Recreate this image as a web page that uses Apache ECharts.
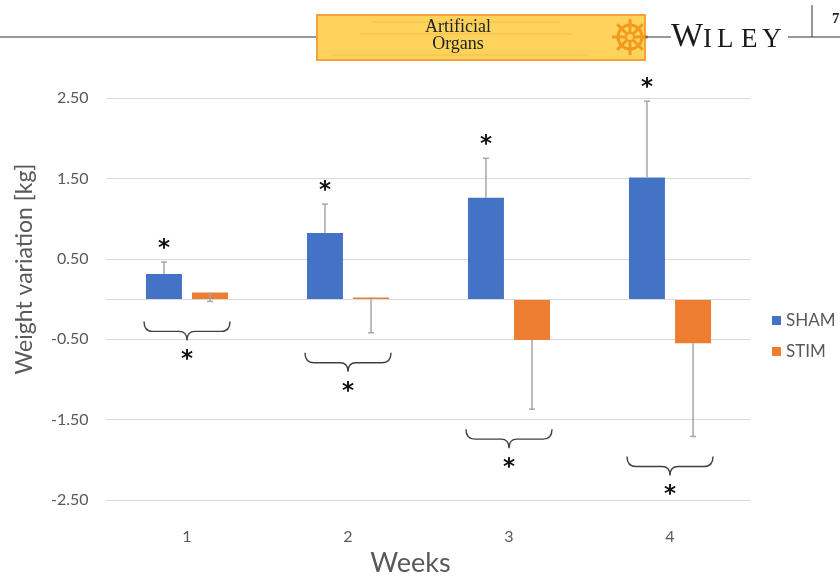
<!DOCTYPE html>
<html>
<head>
<meta charset="utf-8">
<script src="https://cdn.jsdelivr.net/npm/echarts@6/dist/echarts.min.js"></script>
<style>
html,body{margin:0;padding:0;background:#fff;}
#chart{width:840px;height:576px;}
</style>
</head>
<body>
<div id="chart"></div>
<script>
// ---- data ----
const weeks = ['1', '2', '3', '4'];
const shamMean = [0.31, 0.82, 1.26, 1.51];
const shamSD = [0.15, 0.36, 0.49, 0.95];
const stimMean = [0.08, 0.02, -0.51, -0.55];
const stimSD = [0.11, 0.44, 0.86, 1.16];
const yMin = -2.5, yMax = 2.5, yStep = 1;
const seriesNames = ['SHAM', 'STIM'];

// ---- styling ----
const BLUE = '#4472c4', ORANGE = '#ed7d31', GRAY = '#595959', GRID = '#d9d9d9', ERR = '#a6a6a6';
const FONT = 'Lato';
const barW = 36, gapRatio = 0.28;
const off = (barW + barW * gapRatio) / 2;

function errRender(dx, dir) {
  return function (params, api) {
    const i = api.value(0), m = api.value(1), e = api.value(2);
    const p0 = api.coord([i, m]);
    const p1 = api.coord([i, m + dir * e]);
    const x = p0[0] + dx;
    return {
      type: 'group',
      children: [
        { type: 'line', shape: { x1: x, y1: p0[1], x2: x, y2: p1[1] }, style: { stroke: ERR, lineWidth: 1.5 } },
        { type: 'line', shape: { x1: x - 3, y1: p1[1], x2: x + 3, y2: p1[1] }, style: { stroke: ERR, lineWidth: 1.5 } }
      ]
    };
  };
}

function star(x, y) {
  return { type: 'text', style: { text: '*', x: x, y: y + 6, align: 'center', verticalAlign: 'middle',
    font: 'bold 23px "DejaVu Sans"', fill: '#111' } };
}

function annotRender(params, api) {
  const i = api.value(0);
  const top = api.coord([i, api.value(1)]);
  const low = api.coord([i, api.value(2)]);
  const cx = top[0];
  const y0 = low[1] + 20;
  const w = 43;
  const path = `M${cx - w},${y0} Q${cx - w},${y0 + 10} ${cx - w + 9},${y0 + 10} L${cx - 8},${y0 + 10} Q${cx},${y0 + 10} ${cx},${y0 + 19} Q${cx},${y0 + 10} ${cx + 8},${y0 + 10} L${cx + w - 9},${y0 + 10} Q${cx + w},${y0 + 10} ${cx + w},${y0}`;
  return {
    type: 'group',
    children: [
      star(cx - off, top[1] - 19),
      { type: 'path', shape: { pathData: path }, style: { stroke: '#404040', lineWidth: 1.4, fill: null } },
      star(cx, y0 + 33)
    ]
  };
}

const shamErrData = weeks.map((w, i) => [i, shamMean[i], shamSD[i]]);
const stimErrData = weeks.map((w, i) => [i, stimMean[i], stimSD[i]]);
const annotData = weeks.map((w, i) => [i, shamMean[i] + shamSD[i], Math.min(stimMean[i] - stimSD[i], 0)]);

// ---- header graphics ----
const wheelSpokes = [];
for (let k = 0; k < 4; k++) {
  const a = k * Math.PI / 4;
  wheelSpokes.push({ type: 'line', shape: { x1: 630 - 18 * Math.cos(a), y1: 37 - 18 * Math.sin(a), x2: 630 + 18 * Math.cos(a), y2: 37 + 18 * Math.sin(a) },
    style: { stroke: '#f39a1e', lineWidth: 3 } });
}
function letter(ch, x, y, size) {
  return { type: 'text', style: { text: ch, x: x, y: y, align: 'left', verticalAlign: 'middle',
    font: size + 'px "Liberation Serif"', fill: '#1a1a1a' } };
}
const header = [
  { type: 'line', shape: { x1: 0, y1: 37, x2: 317, y2: 37 }, style: { stroke: '#333', lineWidth: 1 } },
  { type: 'rect', shape: { x: 317, y: 15, width: 328, height: 45 }, style: { fill: '#fdd35c', stroke: '#f6a13b', lineWidth: 2 } },
  { type: 'line', shape: { x1: 372, y1: 22, x2: 560, y2: 22 }, style: { stroke: '#f3b94c', lineWidth: 0.8 } },
  { type: 'line', shape: { x1: 360, y1: 34, x2: 572, y2: 34 }, style: { stroke: '#f3b94c', lineWidth: 0.8 } },
  { type: 'line', shape: { x1: 332, y1: 55, x2: 588, y2: 55 }, style: { stroke: '#f3b94c', lineWidth: 0.8 } },
  { type: 'text', style: { text: 'Artificial', x: 458, y: 27, align: 'center', verticalAlign: 'middle', font: '18px "Liberation Serif"', fill: '#222' } },
  { type: 'text', style: { text: 'Organs', x: 458, y: 44, align: 'center', verticalAlign: 'middle', font: '18px "Liberation Serif"', fill: '#222' } },
  { type: 'circle', shape: { cx: 630, cy: 37, r: 12 }, style: { stroke: '#f39a1e', lineWidth: 3, fill: null } },
  ...wheelSpokes,
  { type: 'circle', shape: { cx: 630, cy: 37, r: 4 }, style: { stroke: '#f39a1e', lineWidth: 2, fill: '#fdd35c' } },
  { type: 'line', shape: { x1: 645, y1: 37, x2: 671, y2: 37 }, style: { stroke: '#333', lineWidth: 1 } },
  letter('W', 671, 37, 34), letter('I', 703, 39.5, 27), letter('L', 717, 39.5, 27), letter('E', 741, 39.5, 27), letter('Y', 762, 39.5, 27),
  { type: 'line', shape: { x1: 788, y1: 37, x2: 840, y2: 37 }, style: { stroke: '#333', lineWidth: 1 } },
  { type: 'line', shape: { x1: 812, y1: 5, x2: 812, y2: 37 }, style: { stroke: '#333', lineWidth: 1 } },
  { type: 'text', style: { text: '7', x: 832, y: 19, align: 'left', verticalAlign: 'middle', font: 'bold 15px "Liberation Serif"', fill: '#222' } }
];

const chart = echarts.init(document.getElementById('chart'), null, { renderer: 'canvas' });
chart.setOption({
  animation: false,
  backgroundColor: '#fff',
  graphic: header,
  grid: { left: 106.5, right: 89.5, top: 98, bottom: 76, containLabel: false, outerBoundsMode: 'none' },
  legend: {
    orient: 'vertical', left: 772, top: 312, padding: 0,
    itemWidth: 9, itemHeight: 9, itemGap: 14,
    icon: 'rect',
    data: seriesNames,
    textStyle: { color: GRAY, fontSize: 17, fontFamily: FONT }
  },
  xAxis: {
    type: 'category', data: weeks,
    axisLine: { show: false, onZero: false }, axisTick: { show: false },
    axisLabel: { color: GRAY, fontSize: 16, fontFamily: FONT, margin: 29 },
    name: 'Weeks', nameLocation: 'middle', nameGap: 50,
    nameTextStyle: { color: GRAY, fontSize: 27, fontFamily: FONT, padding: [0, 36, 0, 0] }
  },
  yAxis: {
    type: 'value', min: yMin, max: yMax, interval: yStep,
    axisLine: { show: false }, axisTick: { show: false },
    splitLine: { lineStyle: { color: GRID, width: 1 } },
    axisLabel: { color: GRAY, fontSize: 16, fontFamily: FONT, margin: 18, formatter: v => v.toFixed(2) },
    name: 'Weight variation [kg]', nameLocation: 'middle', nameGap: 70,
    nameTextStyle: { color: GRAY, fontSize: 23, fontFamily: FONT, padding: [0, 0, 0, 60] }
  },
  series: [
    {
      name: seriesNames[0], type: 'bar', data: shamMean, barWidth: barW, barGap: (gapRatio * 100) + '%',
      itemStyle: { color: BLUE },
      markLine: { silent: true, symbol: 'none', label: { show: false },
        lineStyle: { color: GRID, width: 1, type: 'solid' }, data: [{ yAxis: 0 }] }
    },
    { name: seriesNames[1], type: 'bar', data: stimMean, barWidth: barW, itemStyle: { color: ORANGE } },
    { type: 'custom', renderItem: errRender(-off, 1), data: shamErrData, encode: { x: 0, y: 1 }, z: 5, silent: true },
    { type: 'custom', renderItem: errRender(off, -1), data: stimErrData, encode: { x: 0, y: 1 }, z: 5, silent: true },
    { type: 'custom', renderItem: annotRender, data: annotData, encode: { x: 0, y: 1 }, z: 6, silent: true, clip: false }
  ]
});
</script>
</body>
</html>
